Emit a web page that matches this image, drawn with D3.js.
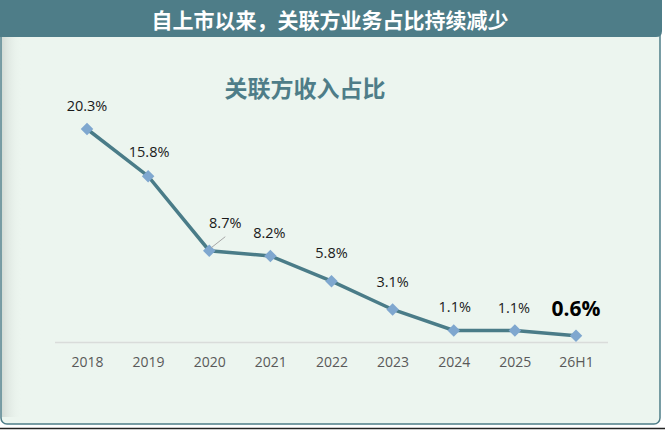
<!DOCTYPE html>
<html>
<head>
<meta charset="utf-8">
<script src="https://cdn.jsdelivr.net/npm/d3@7"></script>
<style>
body { margin: 0; background: #ffffff; }
svg { display: block; }
</style>
</head>
<body>
<div id="chart"></div>
<script>
var categories = ["2018", "2019", "2020", "2021", "2022", "2023", "2024", "2025", "26H1"];
var values = [20.3, 15.8, 8.7, 8.2, 5.8, 3.1, 1.1, 1.1, 0.6];
var labels = ["20.3%", "15.8%", "8.7%", "8.2%", "5.8%", "3.1%", "1.1%", "1.1%", "0.6%"];

var headerTitle = "自上市以来，关联方业务占比持续减少";
var chartTitle = "关联方收入占比";

var width = 665;
var height = 430;
var teal = "#4e7d88";

var svg = d3.select("#chart")
    .append("svg")
        .attr("width", width)
        .attr("height", height);

var defs = svg.append("defs");
var shade = defs.append("linearGradient")
        .attr("id", "shade")
        .attr("x1", "0").attr("x2", "1").attr("y1", "0").attr("y2", "0");
shade.append("stop").attr("offset", "0").attr("stop-color", "#d3dbd6");
shade.append("stop").attr("offset", "1").attr("stop-color", "#ecf5ef").attr("stop-opacity", 0);

// panel
svg.append("rect")
    .attr("x", 1).attr("y", 20)
    .attr("width", 659).attr("height", 404)
    .attr("rx", 6)
    .attr("fill", "#ecf5ef")
    .attr("stroke", teal)
    .attr("stroke-width", 1.5);

svg.append("rect")
    .attr("x", 2).attr("y", 37)
    .attr("width", 20).attr("height", 380)
    .attr("fill", "url(#shade)");

// header bar
svg.append("path")
    .attr("d", "M0,0 H662 V31 Q662,37 656,37 H0 Z")
    .attr("fill", teal);

svg.append("text")
    .attr("x", 330)
    .attr("y", 28)
    .attr("text-anchor", "middle")
    .attr("font-family", "'Noto Sans CJK SC'")
    .attr("font-weight", "bold")
    .attr("font-size", 21)
    .attr("fill", "#ffffff")
    .text(headerTitle);

svg.append("line")
    .attr("x1", 0).attr("x2", width)
    .attr("y1", 428.5).attr("y2", 428.5)
    .attr("stroke", "#222")
    .attr("stroke-width", 1.5);

svg.append("text")
    .attr("x", 305)
    .attr("y", 97)
    .attr("text-anchor", "middle")
    .attr("font-family", "'Noto Sans CJK SC'")
    .attr("font-weight", "bold")
    .attr("font-size", 23)
    .attr("fill", teal)
    .text(chartTitle);

// scales
var xScale = d3.scalePoint()
    .domain(categories)
    .range([87, 576]);

var yScale = d3.scaleLinear()
    .domain([0, 20.3])
    .range([342, 129]);

var xAxis = d3.axisBottom(xScale)
    .tickSize(0)
    .tickPadding(15);

var axisG = svg.append("g")
        .attr("class", "x axis")
        .attr("transform", "translate(0," + yScale(0) + ")")
    .call(xAxis);

axisG.select(".domain")
    .attr("d", "M55,0.5H608")
    .attr("stroke", "#d9dcda")
    .attr("stroke-width", 1.5);

axisG.selectAll("text")
    .attr("font-family", "'Open Sans', 'Noto Sans'")
    .attr("font-size", 14)
    .attr("fill", "#595959");

var line = d3.line()
    .x(function (d, i) {
        return xScale(categories[i]);
    })
    .y(function (d) {
        return yScale(d);
    });

svg.append("path")
    .datum(values)
    .attr("d", line)
    .attr("fill", "none")
    .attr("stroke", "#4a7c88")
    .attr("stroke-width", 3.5);

svg.selectAll(".marker")
    .data(values)
    .enter()
    .append("path")
        .attr("class", "marker")
        .attr("d", d3.symbol().type(d3.symbolDiamond2).size(100))
        .attr("transform", function (d, i) {
            return "translate(" + xScale(categories[i]) + "," + yScale(d) + ")";
        })
        .attr("fill", "#7fa7cf");

// leader line for 2020
svg.append("line")
    .attr("x1", xScale("2020") + 16).attr("y1", yScale(8.7) - 14)
    .attr("x2", xScale("2020") + 2).attr("y2", yScale(8.7) - 3)
    .attr("stroke", "#a6a6a6")
    .attr("stroke-width", 1);

var labelDx = [0, 1, 16, -1, 0, 0, 1, -1, 0];
var labelDy = [-18, -19, -23, -18, -23, -22, -18, -17, -20];

svg.selectAll(".label")
    .data(values)
    .enter()
    .append("text")
        .attr("class", "label")
        .attr("x", function (d, i) { return xScale(categories[i]) + labelDx[i]; })
        .attr("y", function (d, i) { return yScale(d) + labelDy[i]; })
        .attr("text-anchor", "middle")
        .attr("font-family", "'Open Sans', 'Noto Sans'")
        .attr("font-size", function (d, i) { return i === values.length - 1 ? 21 : 14.5; })
        .attr("font-weight", function (d, i) { return i === values.length - 1 ? "bold" : "normal"; })
        .attr("fill", function (d, i) { return i === values.length - 1 ? "#000" : "#1a1a1a"; })
        .text(function (d, i) { return labels[i]; });
</script>
</body>
</html>
